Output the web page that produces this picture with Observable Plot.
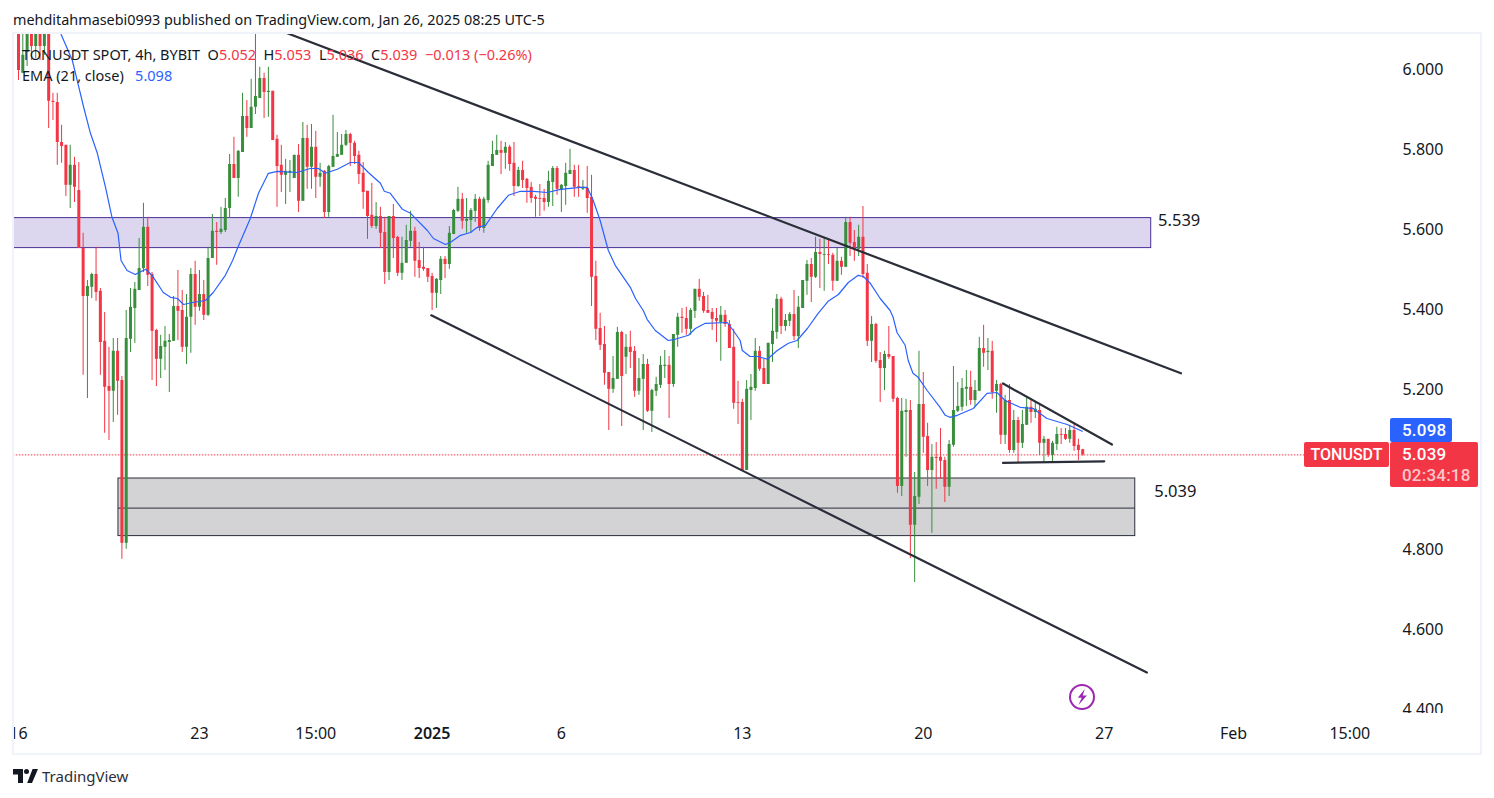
<!DOCTYPE html>
<html><head><meta charset="utf-8">
<script src="https://cdn.jsdelivr.net/npm/d3@7"></script>
<script src="https://cdn.jsdelivr.net/npm/@observablehq/plot@0.6"></script>
<style>
html,body{margin:0;padding:0;background:#fff;width:1494px;height:798px;overflow:hidden}
#wrap{position:relative;width:1494px;height:798px;font-family:"Noto Sans",sans-serif;color:#131722}
#head{height:33px;line-height:39px;padding-left:13px;font-size:14.4px;white-space:nowrap;box-sizing:border-box}
#chart svg{display:block}
#foot{height:44px}
.abs{position:absolute;white-space:nowrap}
.badge{position:absolute;color:#fff;border-radius:2px;font-size:17px;letter-spacing:.2px;font-weight:500;box-sizing:border-box;font-family:Roboto,sans-serif}
.r{color:#f23645}.b{color:#2962ff}
</style></head><body>
<div id="wrap">
<div id="head">mehditahmasebi0993 published on TradingView.com, Jan 26, 2025 08:25 UTC-5</div>
<div id="chart"></div>
<div id="foot"></div>
</div>
<script>
const opens=[6.125,5.993,6.045,6.113,6.06,6.113,6.06,6.105,5.923,5.92,5.82,5.813,5.713,5.763,5.7,5.555,5.435,5.458,5.49,5.448,5.323,5.21,5.198,5.298,5.225,4.818,5.328,5.405,5.45,5.505,5.608,5.49,5.35,5.278,5.308,5.32,5.323,5.41,5.4,5.308,5.383,5.49,5.408,5.44,5.388,5.53,5.598,5.595,5.6,5.655,5.765,5.73,5.795,5.885,5.855,5.908,5.93,5.98,5.945,5.948,
5.828,5.763,5.738,5.743,5.73,5.788,5.673,5.83,5.758,5.808,5.733,5.748,5.645,5.758,5.783,5.788,5.813,5.84,5.818,5.788,5.743,5.698,5.638,5.61,5.635,5.595,5.495,5.635,5.583,5.493,5.518,5.573,5.598,5.525,5.508,5.505,5.485,5.443,5.475,5.528,5.515,5.59,5.648,5.678,5.623,5.625,5.648,5.678,5.605,5.675,5.76,5.788,5.8,5.793,5.808,5.768,5.71,5.75,5.728,5.708,
5.683,5.68,5.68,5.67,5.72,5.755,5.7,5.71,5.74,5.75,5.71,5.703,5.705,5.683,5.485,5.355,5.315,5.245,5.203,5.228,5.345,5.283,5.308,5.298,5.198,5.228,5.265,5.148,5.198,5.213,5.26,5.263,5.215,5.338,5.383,5.38,5.353,5.398,5.453,5.435,5.4,5.395,5.38,5.37,5.388,5.365,5.308,5.17,5.17,5.0,5.2,5.205,5.298,5.255,5.215,5.315,5.345,5.428,5.36,5.373,
5.39,5.335,5.405,5.473,5.515,5.483,5.545,5.538,5.54,5.538,5.473,5.523,5.508,5.62,5.57,5.553,5.583,5.493,5.323,5.365,5.275,5.255,5.29,5.285,5.18,4.96,5.145,5.15,4.863,4.933,5.165,5.085,5.0,5.033,5.033,5.025,4.958,5.063,5.148,5.158,5.203,5.208,5.175,5.198,5.305,5.295,5.298,5.198,5.215,5.088,5.175,5.05,5.125,5.068,5.113,5.158,5.145,5.15,5.068,5.078,
5.038,5.065,5.09,5.09,5.078,5.1,5.063,5.052];
const closes=[6.0,6.038,6.113,6.06,6.113,6.06,6.105,5.923,5.92,5.82,5.81,5.713,5.763,5.708,5.555,5.435,5.46,5.49,5.445,5.32,5.208,5.198,5.298,5.223,4.818,5.33,5.408,5.453,5.505,5.608,5.488,5.348,5.278,5.31,5.323,5.325,5.41,5.398,5.308,5.383,5.49,5.408,5.44,5.388,5.53,5.598,5.595,5.603,5.655,5.765,5.73,5.798,5.885,5.855,5.908,5.935,5.98,5.945,5.948,5.825,
5.76,5.738,5.748,5.748,5.788,5.673,5.83,5.758,5.808,5.733,5.743,5.645,5.76,5.785,5.79,5.813,5.84,5.818,5.785,5.74,5.695,5.635,5.61,5.635,5.593,5.495,5.635,5.58,5.493,5.518,5.575,5.598,5.523,5.505,5.503,5.483,5.443,5.478,5.528,5.515,5.593,5.65,5.678,5.623,5.628,5.65,5.678,5.605,5.678,5.763,5.79,5.8,5.793,5.808,5.765,5.71,5.75,5.725,5.705,5.68,
5.678,5.678,5.67,5.723,5.755,5.703,5.713,5.743,5.75,5.708,5.708,5.708,5.68,5.483,5.353,5.313,5.243,5.203,5.23,5.345,5.235,5.308,5.295,5.198,5.23,5.265,5.148,5.2,5.215,5.263,5.263,5.215,5.34,5.383,5.38,5.353,5.4,5.453,5.433,5.398,5.393,5.378,5.373,5.388,5.365,5.305,5.168,5.168,5.0,5.203,5.208,5.298,5.253,5.215,5.318,5.348,5.428,5.36,5.375,5.39,
5.335,5.408,5.475,5.515,5.483,5.545,5.54,5.54,5.538,5.473,5.523,5.508,5.62,5.568,5.553,5.583,5.49,5.323,5.365,5.273,5.255,5.29,5.283,5.178,4.96,5.148,5.15,4.863,4.935,5.165,5.083,5.0,5.033,5.03,5.023,4.958,5.065,5.15,5.16,5.205,5.208,5.175,5.2,5.305,5.293,5.298,5.195,5.215,5.088,5.175,5.05,5.125,5.068,5.115,5.158,5.145,5.153,5.068,5.078,5.038,
5.068,5.09,5.088,5.078,5.1,5.06,5.05,5.039];
const highs=[6.15,6.1,6.15,6.138,6.138,6.138,6.138,6.125,5.943,5.943,5.863,5.813,5.813,5.783,5.77,5.593,5.475,5.493,5.558,5.455,5.395,5.308,5.33,5.33,5.235,5.4,5.455,5.47,5.58,5.668,5.633,5.495,5.353,5.338,5.36,5.34,5.435,5.5,5.45,5.44,5.505,5.523,5.5,5.475,5.558,5.64,5.62,5.658,5.68,5.79,5.833,5.8,5.943,5.925,5.978,6.113,6.008,5.993,6.008,5.948,
5.838,5.813,5.778,5.775,5.788,5.815,5.87,5.863,5.865,5.848,5.768,5.75,5.763,5.888,5.845,5.84,5.85,5.843,5.823,5.798,5.77,5.698,5.718,5.67,5.658,5.633,5.635,5.665,5.585,5.583,5.613,5.648,5.608,5.57,5.558,5.505,5.493,5.48,5.535,5.535,5.61,5.653,5.708,5.693,5.68,5.655,5.69,5.683,5.683,5.773,5.823,5.838,5.823,5.82,5.813,5.82,5.758,5.773,5.73,5.72,
5.688,5.715,5.703,5.748,5.76,5.76,5.715,5.768,5.803,5.763,5.763,5.725,5.76,5.738,5.523,5.393,5.36,5.245,5.285,5.358,5.348,5.34,5.348,5.31,5.28,5.29,5.278,5.203,5.233,5.285,5.3,5.285,5.34,5.393,5.405,5.408,5.405,5.453,5.478,5.445,5.438,5.405,5.405,5.41,5.4,5.375,5.353,5.223,5.178,5.225,5.24,5.33,5.31,5.278,5.318,5.405,5.44,5.433,5.39,5.395,
5.45,5.435,5.475,5.525,5.53,5.583,5.578,5.58,5.58,5.543,5.555,5.533,5.633,5.633,5.6,5.613,5.66,5.515,5.385,5.368,5.295,5.298,5.36,5.285,5.183,5.18,5.178,5.175,4.995,5.298,5.245,5.118,5.065,5.07,5.105,5.033,5.075,5.26,5.22,5.23,5.25,5.248,5.225,5.333,5.363,5.33,5.323,5.225,5.218,5.188,5.215,5.15,5.133,5.15,5.183,5.175,5.17,5.168,5.085,5.078,
5.073,5.108,5.105,5.105,5.113,5.115,5.078,5.053];
const lows=[5.975,5.993,6.01,6.025,6.03,6.025,6.038,5.855,5.875,5.763,5.768,5.685,5.655,5.67,5.555,5.238,5.18,5.43,5.423,5.238,5.093,5.075,5.12,5.138,4.778,4.803,5.295,5.318,5.45,5.495,5.46,5.225,5.21,5.23,5.25,5.195,5.323,5.325,5.295,5.265,5.293,5.363,5.398,5.375,5.385,5.53,5.513,5.59,5.595,5.63,5.73,5.683,5.795,5.833,5.855,5.89,5.93,5.88,5.883,5.825,
5.658,5.695,5.665,5.695,5.73,5.645,5.673,5.703,5.703,5.68,5.708,5.63,5.633,5.758,5.783,5.788,5.81,5.76,5.765,5.715,5.653,5.578,5.605,5.603,5.555,5.465,5.475,5.53,5.485,5.475,5.518,5.558,5.483,5.48,5.498,5.47,5.4,5.405,5.44,5.48,5.503,5.59,5.645,5.603,5.593,5.593,5.62,5.598,5.593,5.668,5.76,5.788,5.74,5.753,5.748,5.685,5.708,5.705,5.668,5.668,
5.633,5.635,5.648,5.658,5.66,5.688,5.645,5.663,5.74,5.683,5.683,5.7,5.643,5.41,5.325,5.3,5.213,5.1,5.193,5.228,5.11,5.24,5.255,5.183,5.188,5.1,5.145,5.095,5.185,5.205,5.23,5.13,5.208,5.308,5.343,5.338,5.338,5.38,5.423,5.393,5.393,5.35,5.32,5.273,5.358,5.305,5.153,5.115,5.0,5.0,5.125,5.198,5.248,5.215,5.215,5.27,5.328,5.34,5.348,5.36,
5.325,5.305,5.405,5.438,5.42,5.48,5.455,5.448,5.515,5.448,5.473,5.488,5.508,5.535,5.523,5.535,5.48,5.31,5.27,5.268,5.17,5.2,5.278,5.17,4.943,4.935,5.033,4.78,4.72,4.915,5.043,4.96,4.843,4.953,4.978,4.92,4.935,5.058,5.145,5.148,5.16,5.163,5.158,5.198,5.258,5.25,5.178,5.143,5.065,5.065,5.043,5.043,5.02,5.055,5.113,5.118,5.13,5.038,5.018,5.033,
5.02,5.05,5.065,5.075,5.068,5.048,5.025,5.036];

const emaBars=[9.9,12.5,13.9,15.2,16.7,18.3,20.2,21.7,23.1,23.8,25.2,27.1,29.5,31,33.6,35.3,36.9,38.3,40.4,43.4,45.2,48,49.7,50.8,53.8,55.7,58,60.1,64.7,67.7,69.6,71.2,74,77,78.9,81.2,84,84.9,86.3,89.1,91,94.9,96.3,99.1,100.2,102.6,104.9,106.5,108.4,111.1,113.7,116.5,119.5,122.7,125.8,130.4,132,133.4,135,136.9,138.5,142,143.2,145,145.9,147.8,150.8,152.4,155.5,157.1,159.4,164.5,165.9,167.5,168,169.8,171.7,173.8,176.1,178.7,180.7,183.1,185.6,187.9,190.3,192.6,194.9,196.1,197.7,200,202.3,203,203.9,205.8,206.5,207.6,208.8,210.9,213.9,215.1,216.2,217.9,221.6,224.8,227.1,229,232.5,235.5,238.7,243.4,246.9];
const emaPrices=[6.09,6.025,5.963,5.905,5.843,5.793,5.708,5.633,5.593,5.525,5.5,5.49,5.503,5.488,5.445,5.433,5.43,5.415,5.42,5.425,5.445,5.488,5.525,5.555,5.63,5.693,5.743,5.748,5.745,5.755,5.755,5.743,5.753,5.77,5.77,5.745,5.718,5.698,5.693,5.653,5.643,5.6,5.58,5.565,5.57,5.588,5.595,5.608,5.613,5.655,5.688,5.698,5.698,5.695,5.703,5.708,5.708,5.675,5.625,5.55,5.513,5.458,5.43,5.4,5.378,5.35,5.325,5.328,5.338,5.355,5.368,5.37,5.35,5.325,5.3,5.285,5.285,5.278,5.3,5.318,5.325,5.355,5.393,5.423,5.44,5.47,5.488,5.485,5.468,5.43,5.4,5.383,5.345,5.313,5.275,5.243,5.233,5.2,5.158,5.138,5.133,5.138,5.155,5.193,5.195,5.175,5.158,5.155,5.13,5.115,5.098];

const priceTicks=[6,5.8,5.6,5.4,5.2,4.8,4.6,4.4];
const timeTickBars=[0,42,69,126,168,210,252,282,309];
const timeTickLabels=["16","23","15:00","6","13","20","27","Feb","15:00"];
const yearTickBars=[96];
const yearTickLabels=["2025"];
const channels=[
  {id:"upper",bars:[60,269.8],prices:[6.103,5.243]},
  {id:"lower",bars:[95.8,261.9],prices:[5.388,4.495]},
  {id:"wedgeTop",bars:[228.5,253.8],prices:[5.2175,5.065]},
  {id:"wedgeBase",bars:[228.5,252],prices:[5.019,5.023]}
];
const zones=[
  {bar1:-1.2,bar2:262.9,top:5.631,bottom:5.556,fill:"#dcd7ee",stroke:"#4a2f97"},
  {bar1:23.2,bar2:259.2,top:4.98,bottom:4.836,fill:"#d3d3d6",stroke:"#2a2e39"}
];
const zoneMid=[{bar1:23.2,bar2:259.2,price:4.906}];
const zoneLabels=[{bar:264.5,price:5.625,text:"5.539"},{bar:263.6,price:4.9475,text:"5.039"}];
const lastPrice=5.039;

const t0=Date.UTC(2024,11,16);
const H4=4*3600*1000;
const T=b=>new Date(t0+b*H4);
const bars=opens.map((o,i)=>({t:T(i),o,h:highs[i],l:lows[i],c:closes[i],col:closes[i]>=o?"#388e3c":"#f23645"}));
const ema=emaBars.map((b,i)=>({t:T(b),p:emaPrices[i]}));
const seg=channels.flatMap(c=>c.bars.map((b,i)=>({id:c.id,t:T(b),p:c.prices[i]})));
const tz=zones.map(z=>({...z,t1:T(z.bar1),t2:T(z.bar2)}));
const tickDates=timeTickBars.map(T);
const lab=new Map(tickDates.map((d,i)=>[+d,timeTickLabels[i]]));
const yearDates=yearTickBars.map(T);
const yearLab=new Map(yearDates.map((d,i)=>[+d,yearTickLabels[i]]));
const font="Noto Sans, sans-serif";

const plot=Plot.plot({
  width:1494,height:721,
  marginLeft:13,marginRight:104,marginTop:0,marginBottom:41,
  style:{background:"transparent",fontFamily:font,color:"#131722"},
  x:{type:"utc",domain:[new Date(t0),new Date(Date.UTC(2025,1,1))],range:[18,1233],axis:null},
  y:{domain:[4.4,6],range:[677,37],axis:null},
  marks:[
    Plot.rect(tz,{x1:"t1",x2:"t2",y1:"bottom",y2:"top",fill:"fill",stroke:"stroke",strokeWidth:1,clip:true}),
    Plot.ruleY(zoneMid,{y:"price",x1:d=>T(d.bar1),x2:d=>T(d.bar2),stroke:"#2a2e39",strokeWidth:1}),
    Plot.ruleY([lastPrice],{x1:T(-1.2),x2:T(298.6),stroke:"#f23645",strokeWidth:1,strokeDasharray:"1.5,1.5"}),
    Plot.ruleX(bars,{x:"t",y1:"l",y2:"h",stroke:"col",strokeWidth:1,clip:true}),
    Plot.ruleX(bars,{x:"t",y1:"o",y2:"c",stroke:"col",strokeWidth:3,clip:true}),
    Plot.line(ema,{x:"t",y:"p",stroke:"#2962ff",strokeWidth:1.2,clip:true,curve:"linear"}),
    Plot.line(seg,{x:"t",y:"p",z:"id",stroke:"#2a2e39",strokeWidth:2.2,clip:true}),
    Plot.text(zoneLabels,{x:d=>T(d.bar),y:"price",text:"text",textAnchor:"start",fontSize:16.5,fill:"#131722"}),
    Plot.axisY(priceTicks,{anchor:"right",tickSize:0,tickPadding:12,tickFormat:d=>d.toFixed(3),fontSize:16,fill:"#131722",label:null,dy:-1}),
    Plot.axisX(tickDates,{anchor:"bottom",tickSize:0,tickPadding:14,tickFormat:d=>lab.get(+d),fontSize:16,fill:"#131722",label:null}),
    Plot.axisX(yearDates,{anchor:"bottom",tickSize:0,tickPadding:14,tickFormat:d=>yearLab.get(+d),fontSize:16,fontWeight:600,fill:"#131722",label:null})
  ]
});
document.getElementById("chart").appendChild(plot);

const wrap=document.getElementById("wrap");
function add(css,html,cls){const d=document.createElement("div");d.className=cls||"abs";d.style.cssText=css;if(html)d.innerHTML=html;wrap.appendChild(d);return d;}
add("left:0;top:33px;width:12px;height:721px;background:#fff");
add("left:1390px;top:713px;width:88px;height:12px;background:#fff");
add("left:12px;top:32px;width:1470px;height:723px;border:2px solid #f0f3fa;box-sizing:border-box;pointer-events:none");
add("left:22px;top:44px;font-size:14.5px;line-height:20px",'TONUSDT SPOT, 4h, BYBIT &nbsp;O<span class="r">5.052</span> &nbsp;H<span class="r">5.053</span> &nbsp;L<span class="r">5.036</span> &nbsp;C<span class="r">5.039</span> &nbsp;<span class="r">−0.013 (−0.26%)</span>');
add("left:22px;top:65px;font-size:14.5px;line-height:20px",'EMA (21, close) &nbsp;&nbsp;<span class="b">5.098</span>');
add("left:1390px;top:418px;width:62px;height:24px;background:#2962ff;line-height:25px;padding-left:12px","5.098","badge");
add("left:1390px;top:442px;width:88px;height:45px;background:#f23645","","badge");
add("left:1402px;top:444px;height:20px;line-height:20px;color:#fff;background:transparent","5.039","badge");
add("left:1402px;top:465px;height:20px;line-height:20px;color:rgba(255,255,255,.72);background:transparent","02:34:18","badge");
add("left:1304px;top:442px;width:85px;height:25px;background:#f23645;line-height:25px;text-align:center;font-size:16px;letter-spacing:0","TONUSDT","badge");
add("left:1069px;top:684px;width:26px;height:26px;border:2px solid #9c27b0;border-radius:50%;box-sizing:border-box");
add("left:1075px;top:689px;width:14px;height:16px;background:#9c27b0;clip-path:polygon(70% 0,20% 55%,48% 55%,25% 100%,85% 40%,55% 40%)");
add("left:13px;top:769px;width:10px;height:14px;background:#131722;clip-path:polygon(0 0,100% 0,100% 100%,50% 100%,50% 40%,0 40%)");
add("left:24px;top:769px;width:5px;height:5px;background:#131722;border-radius:50%");
add("left:26px;top:769px;width:12px;height:14px;background:#131722;clip-path:polygon(55% 0,100% 0,50% 100%,10% 100%)");
add("left:42px;top:766px;font-size:15px;line-height:20px;color:#2a2e39","TradingView");
</script>
</body></html>
